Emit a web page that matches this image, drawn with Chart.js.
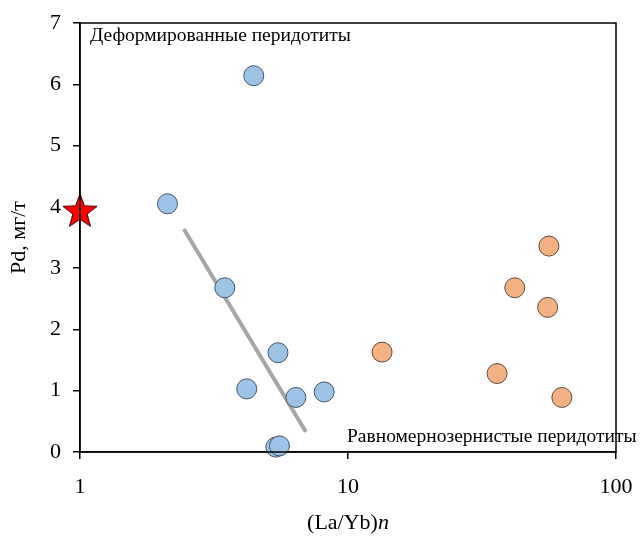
<!DOCTYPE html>
<html>
<head>
<meta charset="utf-8">
<script src="https://cdn.jsdelivr.net/npm/chart.js@4"></script>
<style>
  body { margin: 0; background: #fff; }
  canvas { display: block; }
</style>
</head>
<body>
<canvas id="pdChart" width="640" height="536"></canvas>
<script>
// Деформированные перидотиты
const deformedLaYb = [2.12, 4.45, 3.47, 5.48, 4.19, 6.39, 8.15, 5.38, 5.55];
const deformedPd = [4.05, 6.14, 2.68, 1.62, 1.03, 0.89, 0.98, 0.08, 0.1];

// Равномернозернистые перидотиты
const granularLaYb = [13.4, 36.0, 41.9, 55.6, 56.2, 62.8];
const granularPd = [1.63, 1.28, 2.68, 2.36, 3.36, 0.89];

// red star on the y axis
const starLaYb = [1];
const starPd = [3.92];

// trend line through the deformed samples
const trendLaYb = [2.44, 6.96];
const trendPd = [3.64, 0.33];

const xTicks = [1, 10, 100];
const yMin = 0, yMax = 7;

const SERIF = "'Liberation Serif', 'Times New Roman', serif";

function toPoints(xs, ys) {
  return xs.map((x, i) => ({ x: x, y: ys[i] }));
}

// filled five-point star used as the marker
function makeStar(outer, inner) {
  const size = Math.ceil(outer * 2 + 4);
  const c = document.createElement("canvas");
  c.width = size;
  c.height = size;
  const g = c.getContext("2d");
  const cx = size / 2, cy = size / 2;
  g.beginPath();
  for (let i = 0; i < 10; i++) {
    const r = i % 2 === 0 ? outer : inner;
    const a = -Math.PI / 2 + (i * Math.PI) / 5;
    const px = cx + r * Math.cos(a);
    const py = cy + r * Math.sin(a);
    if (i === 0) g.moveTo(px, py);
    else g.lineTo(px, py);
  }
  g.closePath();
  g.fillStyle = "#FF0000";
  g.fill();
  g.lineWidth = 1;
  g.strokeStyle = "#3a0000";
  g.stroke();
  return c;
}
const starImg = makeStar(18, 7.5);

// frame around the plot and the text labels
const framePlugin = {
  id: "frame",
  afterDraw(chart) {
    const ctx = chart.ctx;
    const a = chart.chartArea;
    ctx.save();
    ctx.strokeStyle = "#000";
    ctx.lineWidth = 1.5;
    ctx.strokeRect(a.left, a.top, a.right - a.left, a.bottom - a.top);

    ctx.fillStyle = "#000";
    ctx.textBaseline = "middle";
    ctx.font = "19.5px " + SERIF;
    ctx.textAlign = "left";
    ctx.fillText("Деформированные перидотиты", a.left + 10, a.top + 13);
    ctx.fillText("Равномернозернистые перидотиты", 347, a.bottom - 15);

    // x axis title with italic n
    const base = "(La/Yb)";
    ctx.font = "22px " + SERIF;
    const w1 = ctx.measureText(base).width;
    ctx.font = "italic 22px " + SERIF;
    const w2 = ctx.measureText("n").width;
    const cx = (a.left + a.right) / 2;
    const x0 = cx - (w1 + w2) / 2;
    const y = 523;
    ctx.font = "22px " + SERIF;
    ctx.fillText(base, x0, y);
    ctx.font = "italic 22px " + SERIF;
    ctx.fillText("n", x0 + w1, y);
    ctx.restore();
  },
};

new Chart("pdChart", {
  data: {
    datasets: [
      {
        type: "scatter",
        data: toPoints(starLaYb, starPd),
        pointStyle: starImg,
        clip: false,
      },
      {
        type: "scatter",
        data: toPoints(deformedLaYb, deformedPd),
        backgroundColor: "#9DC3E6",
        borderColor: "#44546A",
        borderWidth: 1,
        pointRadius: 10,
        pointHoverRadius: 10,
        clip: false,
      },
      {
        type: "scatter",
        data: toPoints(granularLaYb, granularPd),
        backgroundColor: "#F4B183",
        borderColor: "#5E4A3A",
        borderWidth: 1,
        pointRadius: 10,
        pointHoverRadius: 10,
        clip: false,
      },
      {
        type: "line",
        data: toPoints(trendLaYb, trendPd),
        borderColor: "#A6A6A6",
        borderWidth: 4,
        pointRadius: 0,
        fill: false,
      },
    ],
  },
  options: {
    responsive: false,
    animation: false,
    events: [],
    layout: {
      padding: { top: 23, right: 24, left: 0, bottom: 0 },
    },
    plugins: {
      legend: { display: false },
      tooltip: { enabled: false },
    },
    scales: {
      x: {
        type: "logarithmic",
        position: "bottom",
        min: 1,
        max: 100,
        afterBuildTicks(scale) {
          scale.ticks = xTicks.map((v) => ({ value: v }));
        },
        afterFit(scale) {
          scale.height = 84;
          scale.paddingLeft = 0;
          scale.paddingRight = 0;
        },
        ticks: {
          color: "#000",
          font: { family: SERIF, size: 22 },
          padding: 15,
          maxRotation: 0,
          callback: (v) => String(v),
        },
        grid: {
          drawOnChartArea: false,
          drawTicks: true,
          tickLength: 7,
          color: "#000",
          lineWidth: 1.5,
        },
        border: { display: true, color: "#000", width: 1.5 },
      },
      y: {
        min: yMin,
        max: yMax,
        afterFit(scale) {
          scale.width = 80;
          scale.paddingTop = 0;
          scale.paddingBottom = 0;
        },
        ticks: {
          stepSize: 1,
          color: "#000",
          font: { family: SERIF, size: 22 },
          padding: 12,
        },
        grid: {
          drawOnChartArea: false,
          drawTicks: true,
          tickLength: 7,
          color: "#000",
          lineWidth: 1.5,
        },
        border: { display: true, color: "#000", width: 1.5 },
        title: {
          display: true,
          text: "Pd, мг/т",
          color: "#000",
          font: { family: SERIF, size: 22 },
          padding: { top: 6, bottom: 0 },
        },
      },
    },
  },
  plugins: [framePlugin],
});
</script>
</body>
</html>
